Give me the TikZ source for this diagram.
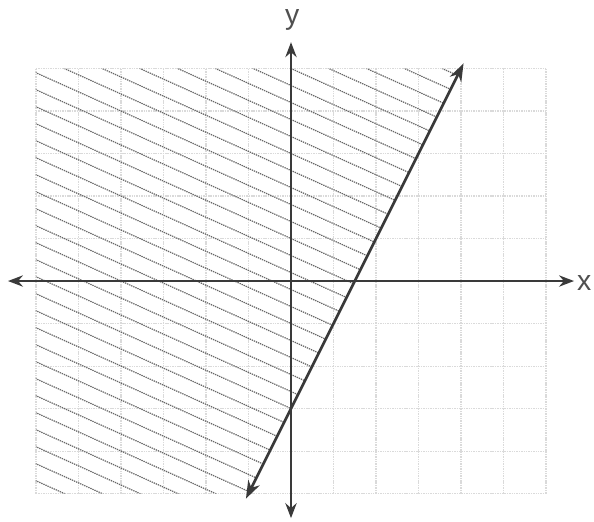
\documentclass[tikz,border=0pt]{standalone}
\usepackage{fontspec}
\setmainfont{Liberation Sans}
\usetikzlibrary{arrows.meta}
\definecolor{axiscol}{HTML}{3A3A3A}
\definecolor{gridcol}{HTML}{DADADA}
\definecolor{hatchcol}{HTML}{666666}
\definecolor{labelcol}{HTML}{505050}
\tikzset{
  gridline/.style={gridcol, line width=0.7pt, dash pattern=on 1pt off 0.6pt},
  hatchline/.style={hatchcol, line width=0.8pt, dash pattern=on 0.9pt off 0.6pt},
  axisline/.style={axiscol, line width=1.7pt, {Stealth[length=10pt,width=7.5pt]}-{Stealth[length=10pt,width=7.5pt]}},
  boundline/.style={axiscol, line width=1.8pt, {Stealth[length=12pt,width=8.5pt]}-{Stealth[length=12pt,width=8.5pt]}},
  axlabel/.style={labelcol, font=\fontsize{19}{20}\selectfont, inner sep=0pt}
}
\begin{document}
\begin{tikzpicture}[x=1cm,y=1cm]
\useasboundingbox (-6.847,-5.647) rectangle (7.129,6.612);
% grid
\draw[gridline] (-6,-5) grid (6,5);
% hatching of region y >= 2x-3
\begin{scope}
  \clip (-6,5) -- (4,5) -- (-1,-5) -- (-6,-5) -- cycle;
  \foreach \c in {-7.8,-7.4,...,7.2}
    \draw[hatchline] (-6.5,{\c+0.45*6.5}) -- (4.5,{\c-0.45*4.5});
\end{scope}
% axes
\coordinate (xl) at (-6.66,0);
\coordinate (xr) at (6.66,0);
\coordinate (yb) at (0,-5.58);
\coordinate (yt) at (0,5.62);
\draw[axisline] (xl) -- (xr);
\draw[axisline] (yb) -- (yt);
% boundary line y = 2x - 3
\coordinate (lb) at (-1.06,-5.12);
\coordinate (lt) at (4.06,5.12);
\draw[boundline] (lb) -- (lt);
% labels
\node[axlabel] (ylab) at (0.03,6.15) {y};
\node[axlabel] (xlab) at (6.9,-0.05) {x};
\end{tikzpicture}
\end{document}
